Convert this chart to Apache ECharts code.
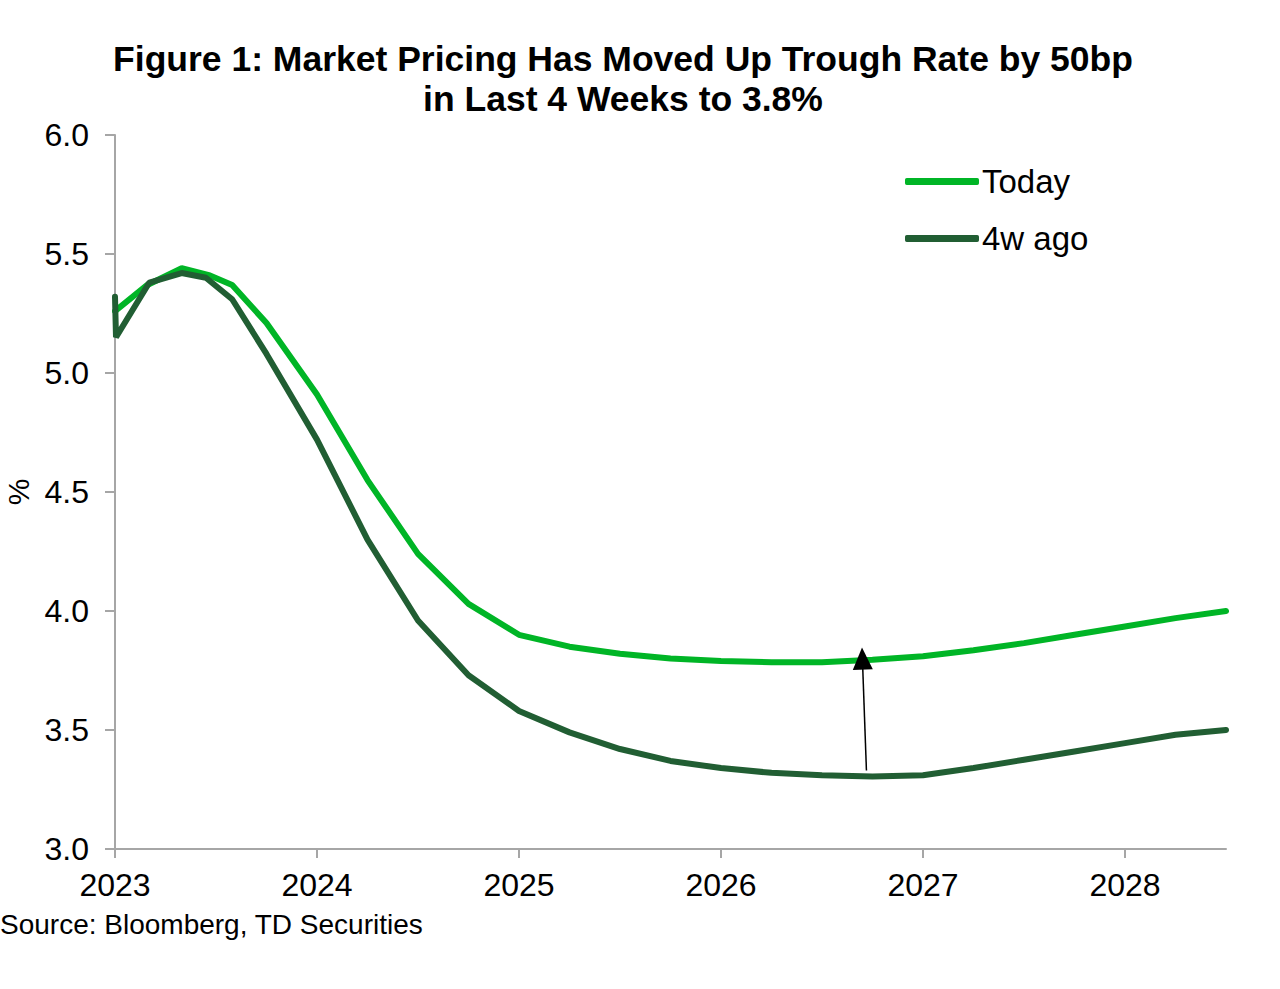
<!DOCTYPE html>
<html>
<head>
<meta charset="utf-8">
<script src="https://cdn.jsdelivr.net/npm/echarts@6/dist/echarts.min.js"></script>
<style>html,body{margin:0;padding:0;background:#fff}#c{width:1280px;height:989px}</style>
</head>
<body>
<div id="c"></div>
<script>
var titleLines = ['Figure 1: Market Pricing Has Moved Up Trough Rate by 50bp', 'in Last 4 Weeks to 3.8%'];
var sourceText = 'Source: Bloomberg, TD Securities';
var yearTicks = [2023, 2024, 2025, 2026, 2027, 2028];
var yTicks = [3.0, 3.5, 4.0, 4.5, 5.0, 5.5, 6.0];

var todayX = [2023.00, 2023.16, 2023.33, 2023.47, 2023.58, 2023.75, 2024.00, 2024.25, 2024.50, 2024.75, 2025.00, 2025.25, 2025.50, 2025.75, 2026.00, 2026.25, 2026.50, 2026.75, 2027.00, 2027.25, 2027.50, 2027.75, 2028.00, 2028.25, 2028.50];
var todayY = [5.26, 5.37, 5.44, 5.41, 5.37, 5.21, 4.91, 4.55, 4.24, 4.03, 3.90, 3.85, 3.82, 3.80, 3.79, 3.785, 3.785, 3.795, 3.81, 3.835, 3.865, 3.90, 3.935, 3.97, 4.00];

var agoX = [2023.00, 2023.005, 2023.17, 2023.33, 2023.45, 2023.58, 2023.75, 2024.00, 2024.25, 2024.50, 2024.75, 2025.00, 2025.25, 2025.50, 2025.75, 2026.00, 2026.25, 2026.50, 2026.75, 2027.00, 2027.25, 2027.50, 2027.75, 2028.00, 2028.25, 2028.50];
var agoY = [5.32, 5.15, 5.38, 5.42, 5.40, 5.31, 5.08, 4.72, 4.30, 3.96, 3.73, 3.58, 3.49, 3.42, 3.37, 3.34, 3.32, 3.31, 3.305, 3.31, 3.34, 3.375, 3.41, 3.445, 3.48, 3.50];

var arrowFrom = [2026.72, 3.33];
var arrowTo = [2026.70, 3.80];

function zip(xs, ys) { return xs.map(function (x, i) { return [x, ys[i]]; }); }

var FONT = '"Liberation Sans", Arial, sans-serif';
var chart = echarts.init(document.getElementById('c'), null, { renderer: 'svg' });
chart.setOption({
  animation: false,
  backgroundColor: '#ffffff',
  graphic: [
    { type: 'text', x: 623, y: 79, style: { text: titleLines.join('\n'), font: 'bold 35.5px ' + FONT, fill: '#000', textAlign: 'center', textVerticalAlign: 'middle', lineHeight: 40 } },
    { type: 'text', x: 0, y: 924, style: { text: sourceText, font: '28px ' + FONT, fill: '#000', textAlign: 'left', textVerticalAlign: 'middle' } }
  ],
  grid: { left: 115, right: 54, top: 135, bottom: 140, containLabel: false, outerBoundsMode: 'none' },
  legend: {
    orient: 'vertical', left: 905, top: 165, padding: 0, itemWidth: 74, itemHeight: 7, itemGap: 24, icon: 'roundRect',
    textStyle: { fontSize: 33, fontFamily: FONT, color: '#000', padding: [0, 0, 0, -2] },
    data: ['Today', '4w ago']
  },
  xAxis: {
    type: 'value', min: 2023, max: 2028.5, interval: 1,
    axisLine: { show: true, lineStyle: { color: '#a6a6a6', width: 2 } },
    axisTick: { show: true, length: 9, lineStyle: { color: '#a6a6a6', width: 2 }, customValues: yearTicks },
    axisLabel: { fontSize: 32, fontFamily: FONT, color: '#000', margin: 20, customValues: yearTicks, formatter: function (v) { return String(v); } },
    splitLine: { show: false }
  },
  yAxis: {
    type: 'value', min: 3, max: 6, interval: 0.5,
    name: '%', nameLocation: 'middle', nameGap: 82, nameRotate: 90,
    nameTextStyle: { fontSize: 30, fontFamily: FONT, color: '#000' },
    axisLine: { show: true, lineStyle: { color: '#a6a6a6', width: 2 } },
    axisTick: { show: true, length: 10, lineStyle: { color: '#a6a6a6', width: 2 } },
    axisLabel: { fontSize: 32, fontFamily: FONT, color: '#000', margin: 26, formatter: function (v) { return v.toFixed(1); } },
    splitLine: { show: false }
  },
  series: [
    {
      name: 'Today', type: 'line', data: zip(todayX, todayY), showSymbol: false, symbol: 'none',
      lineStyle: { color: '#00b526', width: 6, cap: 'round' }, itemStyle: { color: '#00b526' }, z: 2,
      markLine: {
        silent: true, animation: false, label: { show: false },
        symbol: ['none', 'triangle'], symbolSize: [20, 22],
        lineStyle: { color: '#000', width: 1.5, type: 'solid' },
        data: [[{ coord: arrowFrom }, { coord: arrowTo }]]
      }
    },
    {
      name: '4w ago', type: 'line', data: zip(agoX, agoY), showSymbol: false, symbol: 'none',
      lineStyle: { color: '#215e33', width: 6, cap: 'round' }, itemStyle: { color: '#215e33' }, z: 3
    }
  ]
});
</script>
</body>
</html>
